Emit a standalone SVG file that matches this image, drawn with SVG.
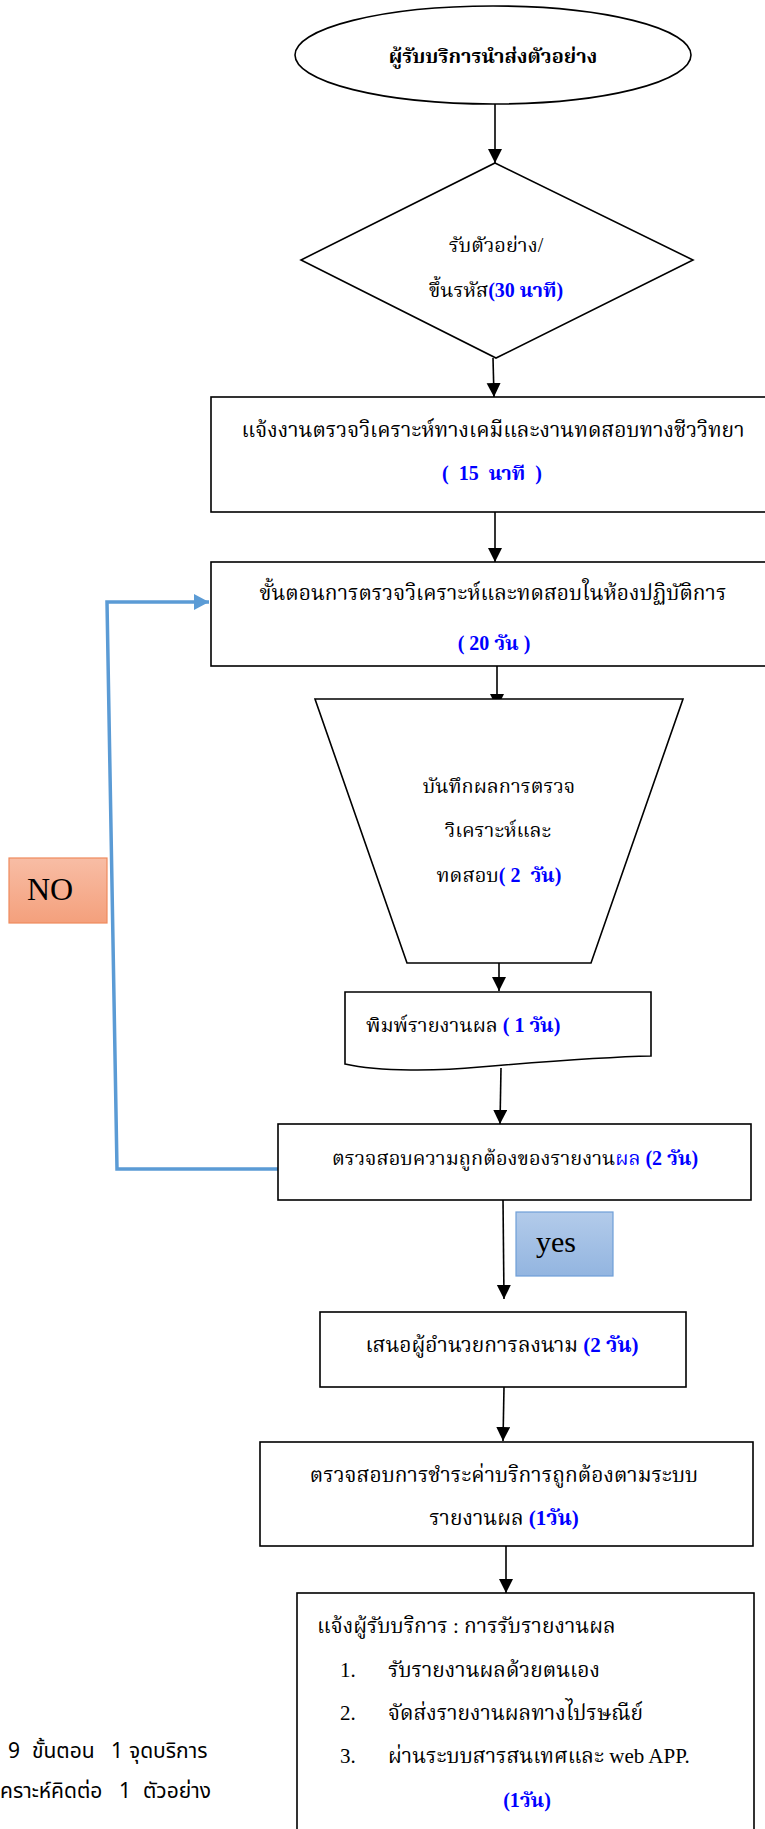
<svg xmlns="http://www.w3.org/2000/svg" width="765" height="1829" viewBox="0 0 765 1829">
<defs>
<style>
text{font-family:"Liberation Serif","Noto Serif Thai","Noto Sans Thai","DejaVu Sans",serif;font-size:20px;fill:#000;white-space:pre}
.c{text-anchor:middle}
.b{font-weight:bold}
.blue{fill:#0000ff}
.l{font-size:21px}
.shape{fill:#fff;stroke:#000;stroke-width:1.6}
.conn{stroke:#000;stroke-width:1.6;fill:none;marker-end:url(#ah)}
.sans{font-family:"Noto Sans Thai","Noto Sans","DejaVu Sans",sans-serif;font-size:21px}
</style>
<marker id="ah" markerUnits="userSpaceOnUse" markerWidth="14" markerHeight="16" refX="14" refY="7" orient="auto">
<path d="M0,0 L14,7 L0,14 Z" fill="#000"/>
</marker>
<marker id="bh" markerUnits="userSpaceOnUse" markerWidth="16" markerHeight="16" refX="15" refY="8" orient="auto">
<path d="M0,0 L15,8 L0,16 Z" fill="#5b9bd5"/>
</marker>
<linearGradient id="gno" x1="0" y1="0" x2="0" y2="1"><stop offset="0" stop-color="#f8bda5"/><stop offset="1" stop-color="#f4a07c"/></linearGradient>
<linearGradient id="gyes" x1="0" y1="0" x2="0" y2="1"><stop offset="0" stop-color="#b3cbea"/><stop offset="1" stop-color="#93b5e0"/></linearGradient>
</defs>

<g id="connectors">
<line class="conn" x1="495" y1="104" x2="495" y2="163"/>
<line class="conn" x1="493" y1="358" x2="494" y2="397"/>
<line class="conn" x1="495" y1="512" x2="495" y2="562"/>
<line class="conn" x1="497" y1="663" x2="497" y2="708"/>
<line class="conn" x1="499" y1="940" x2="499" y2="991"/>
<line class="conn" x1="501" y1="1068" x2="500" y2="1124"/>
<line class="conn" x1="503" y1="1200" x2="504" y2="1299"/>
<line class="conn" x1="504" y1="1387" x2="503" y2="1441"/>
<line class="conn" x1="506" y1="1546" x2="506" y2="1593"/>
<polyline points="278,1169 117,1169 107,602 209,602" fill="none" stroke="#5b9bd5" stroke-width="3.5" marker-end="url(#bh)"/>
</g>

<g id="start">
<ellipse class="shape" cx="493" cy="55" rx="198" ry="49"/>
<text class="c b" x="493" y="63">ผู้รับบริการนำส่งตัวอย่าง</text>
</g>

<g id="receive">
<polygon class="shape" points="495,163 693,260 496,358 301,260"/>
<text class="c" x="496" y="252">รับตัวอย่าง/</text>
<text class="c" x="496" y="297">ขึ้นรหัส<tspan class="b blue">(30 นาที)</tspan></text>
</g>

<g id="notify">
<rect class="shape" x="211" y="397" width="570" height="115" stroke="#444"/>
<text class="c l" x="493" y="437">แจ้งงานตรวจวิเคราะห์ทางเคมีและงานทดสอบทางชีววิทยา</text>
<text class="c b blue" x="492" y="480">(  15  นาที  )</text>
</g>

<g id="lab">
<rect class="shape" x="211" y="562" width="570" height="104" stroke-width="2.6"/>
<text class="c l" x="493" y="600">ขั้นตอนการตรวจวิเคราะห์และทดสอบในห้องปฏิบัติการ</text>
<text class="c b blue" x="494" y="650">( 20 วัน )</text>
</g>

<g id="record">
<polygon class="shape" points="315,699 683,699 591,963 407,963"/>
<text class="c" x="499" y="793">บันทึกผลการตรวจ</text>
<text class="c" x="498" y="837">วิเคราะห์และ</text>
<text class="c" x="499" y="882">ทดสอบ<tspan class="b blue">( 2  วัน)</tspan></text>
</g>

<g id="print">
<path class="shape" d="M345,992 L651,992 L651,1056 C600,1057 540,1062 480,1067 C440,1071 380,1072 345,1064 Z"/>
<text x="366" y="1032">พิมพ์รายงานผล <tspan class="b blue">( 1 วัน)</tspan></text>
</g>

<g id="verify">
<rect class="shape" x="278" y="1124" width="473" height="76"/>
<text class="c" x="515" y="1165">ตรวจสอบความถูกต้องของรายงาน<tspan class="blue">ผล </tspan><tspan class="b blue">(2 วัน)</tspan></text>
</g>

<g id="no-label">
<rect x="9" y="858" width="98" height="65" fill="url(#gno)" stroke="#ee8a5e" stroke-width="1.2"/>
<text x="27" y="900" style="font-size:32px">NO</text>
</g>

<g id="yes-label">
<rect x="516" y="1212" width="97" height="64" fill="url(#gyes)" stroke="#6f9fd8" stroke-width="1.2"/>
<text x="536" y="1252" style="font-size:30px">yes</text>
</g>

<g id="sign">
<rect class="shape" x="320" y="1312" width="366" height="75"/>
<text class="c l" x="502" y="1352">เสนอผู้อำนวยการลงนาม <tspan class="b blue">(2 วัน)</tspan></text>
</g>

<g id="payment">
<rect class="shape" x="260" y="1442" width="493" height="104"/>
<text class="c l" x="504" y="1482">ตรวจสอบการชำระค่าบริการถูกต้องตามระบบ</text>
<text class="c l" x="504" y="1525">รายงานผล <tspan class="b blue">(1วัน)</tspan></text>
</g>

<g id="inform">
<rect class="shape" x="297" y="1593" width="457" height="260"/>
<text class="l" x="317" y="1633">แจ้งผู้รับบริการ : การรับรายงานผล</text>
<text class="l" x="340" y="1677">1.</text><text class="l" x="388" y="1677">รับรายงานผลด้วยตนเอง</text>
<text class="l" x="340" y="1720">2.</text><text class="l" x="388" y="1720">จัดส่งรายงานผลทางไปรษณีย์</text>
<text class="l" x="340" y="1763">3.</text><text class="l" x="388" y="1763">ผ่านระบบสารสนเทศและ web APP.</text>
<text class="c b blue" x="527" y="1807">(1วัน)</text>
</g>

<g id="summary">
<text class="sans" y="1758"><tspan x="8">9</tspan><tspan x="32">ขั้นตอน</tspan><tspan x="111">1</tspan><tspan x="129">จุดบริการ</tspan></text>
<text class="sans" y="1798"><tspan x="0">คราะห์คิดต่อ</tspan><tspan x="119">1</tspan><tspan x="143">ตัวอย่าง</tspan></text>
</g>
</svg>
